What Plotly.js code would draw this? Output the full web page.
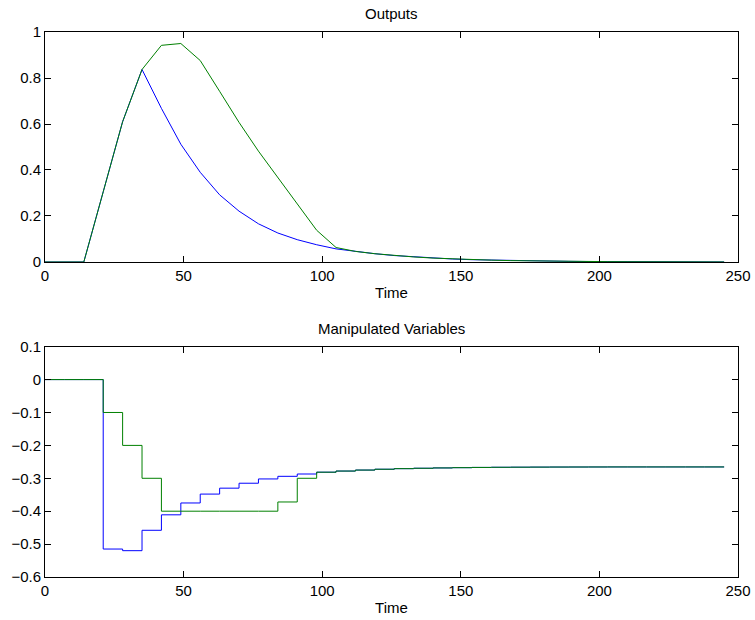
<!DOCTYPE html>
<html>
<head>
<meta charset="utf-8">
<script src="https://cdn.plot.ly/plotly-3.0.1.min.js"></script>
<style>html,body{margin:0;padding:0;background:#fff;}#chart{width:755px;height:620px;}</style>
</head>
<body>
<div id="chart"></div>
<script>
const time = [0,7,14,21,28,35,42,49,56,63,70,77,84,91,98,105,112,119,126,133,140,147,154,161,168,175,182,189,196,203,210,217,224,231,238,245];

const output1 = [0,0,0,0.305,0.61,0.837,0.668,0.512,0.39,0.292,0.221,0.166,0.126,0.097,0.075,0.057,0.045,0.036,0.028,0.022,0.017,0.013,0.010,0.008,0.006,0.0045,0.0035,0.0027,0.002,0.0015,0.0011,0.0008,0.0006,0.0004,0.0003,0.0002];
const output2 = [0,0,0,0.305,0.61,0.837,0.942,0.95,0.876,0.742,0.607,0.482,0.366,0.25,0.138,0.063,0.046,0.036,0.028,0.022,0.017,0.013,0.010,0.008,0.006,0.0045,0.0035,0.0027,0.002,0.0015,0.0011,0.0008,0.0006,0.0004,0.0003,0.0002];

const mv1 = [0,0,0,-0.515,-0.52,-0.458,-0.411,-0.375,-0.348,-0.33,-0.315,-0.302,-0.294,-0.287,-0.2815,-0.278,-0.275,-0.2725,-0.2707,-0.2695,-0.2685,-0.2677,-0.267,-0.2665,-0.2662,-0.266,-0.2658,-0.2657,-0.2656,-0.2655,-0.2655,-0.2655,-0.2655,-0.2655,-0.2655,-0.2655];
const mv2 = [0,0,0,-0.1,-0.2,-0.3,-0.4,-0.4,-0.4,-0.4,-0.4,-0.4,-0.372,-0.3,-0.2815,-0.278,-0.275,-0.2725,-0.2707,-0.2695,-0.2685,-0.2677,-0.267,-0.2665,-0.2662,-0.266,-0.2658,-0.2657,-0.2656,-0.2655,-0.2655,-0.2655,-0.2655,-0.2655,-0.2655,-0.2655];

const xTicks = [0,50,100,150,200,250];
const yTicksTop = [0,0.2,0.4,0.6,0.8,1];
const yTicksBottom = [-0.6,-0.5,-0.4,-0.3,-0.2,-0.1,0,0.1];

const BLUE = '#0000ff', GREEN = '#008000';
const font = {family: 'Liberation Sans, Arial, sans-serif', size: 15, color: '#000'};

const traces = [
  {x: time, y: output1, mode: 'lines', line: {color: BLUE, width: 1}, xaxis: 'x', yaxis: 'y'},
  {x: time, y: output2, mode: 'lines', line: {color: GREEN, width: 1}, xaxis: 'x', yaxis: 'y'},
  {x: time, y: mv1, mode: 'lines', line: {color: BLUE, width: 1, shape: 'hv'}, xaxis: 'x2', yaxis: 'y2'},
  {x: time, y: mv2, mode: 'lines', line: {color: GREEN, width: 1, shape: 'hv'}, xaxis: 'x2', yaxis: 'y2'}
];

function xAxis(anchor) {
  return {
    range: [0, 250], tickvals: xTicks, ticks: 'inside', ticklen: 6, tickcolor: '#000',
    showline: true, linecolor: '#000', linewidth: 1, mirror: 'ticks', showgrid: false, zeroline: false,
    tickfont: font, anchor: anchor,
    title: {text: 'Time', font: font, standoff: 4}
  };
}
function yAxis(range, ticks, domain, anchor) {
  return {
    range: range, tickvals: ticks, ticks: 'inside', ticklen: 6, tickcolor: '#000',
    showline: true, linecolor: '#000', linewidth: 1, mirror: 'ticks', showgrid: false, zeroline: false,
    tickfont: font, domain: domain, anchor: anchor
  };
}

const layout = {
  width: 755, height: 620,
  margin: {l: 45, r: 17, t: 32, b: 43},
  paper_bgcolor: '#fff', plot_bgcolor: '#fff',
  showlegend: false,
  font: font,
  xaxis: xAxis('y'),
  yaxis: yAxis([0, 1], yTicksTop, [0.578, 1], 'x'),
  xaxis2: xAxis('y2'),
  yaxis2: yAxis([-0.6, 0.1], yTicksBottom, [0, 0.4226], 'x2'),
  annotations: [
    {text: 'Outputs', xref: 'paper', yref: 'paper', x: 0.5, y: 1, yshift: 8, xanchor: 'center', yanchor: 'bottom', showarrow: false, font: font},
    {text: 'Manipulated Variables', xref: 'paper', yref: 'paper', x: 0.5, y: 0.4226, yshift: 8, xanchor: 'center', yanchor: 'bottom', showarrow: false, font: font}
  ]
};

Plotly.newPlot('chart', traces, layout, {displayModeBar: false, staticPlot: true});
</script>
</body>
</html>
